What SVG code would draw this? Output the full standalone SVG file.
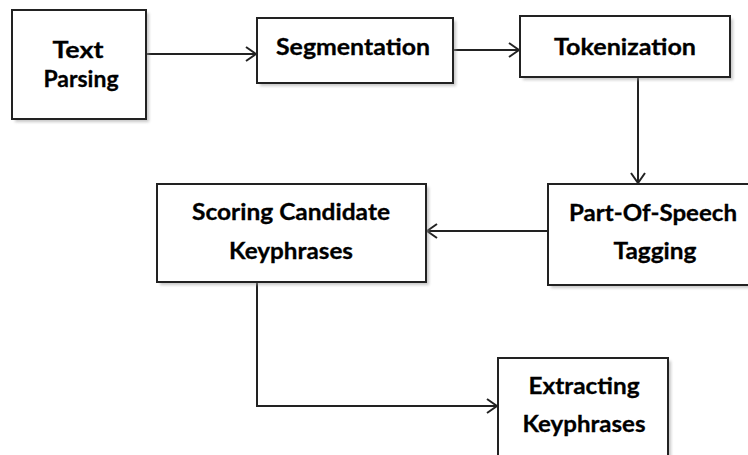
<svg xmlns="http://www.w3.org/2000/svg" width="748" height="455" viewBox="0 0 748 455">
<style>
.box{fill:#fff;stroke:#222;stroke-width:2}
.sh{fill:#999;opacity:0.55;filter:url(#blur)}
.t{font-family:Lato,"Open Sans",sans-serif;font-weight:bold;font-size:23px;fill:#000;stroke:#000;stroke-width:0.3;text-anchor:middle}
.c{fill:none;stroke:#222;stroke-width:2}
</style>
<defs>
<filter id="blur" x="-10%" y="-10%" width="120%" height="120%"><feGaussianBlur stdDeviation="1.5"/></filter>
<marker id="arr" viewBox="0 0 12 16" refX="11" refY="8" markerWidth="12" markerHeight="16" markerUnits="userSpaceOnUse" orient="auto">
<path d="M1,1 L11,8 L1,15" fill="none" stroke="#222" stroke-width="2"/>
</marker>
</defs>
<rect width="748" height="455" fill="#fff"/>
<g id="connectors">
<path class="c" d="M146,54 H256" marker-end="url(#arr)"/>
<path class="c" d="M453,50 H519" marker-end="url(#arr)"/>
<path class="c" d="M638,77 V183" marker-end="url(#arr)"/>
<path class="c" d="M548,231 H427" marker-end="url(#arr)"/>
<path class="c" d="M257,282 V406 H497" marker-end="url(#arr)"/>
</g>
<g id="text-parsing">
<rect class="sh" x="15" y="13" width="134" height="109"/>
<rect class="box" x="12" y="10" width="134" height="109"/>
<text class="t" x="78" y="58" textLength="51" lengthAdjust="spacingAndGlyphs">Text</text>
<text class="t" x="81" y="87" textLength="75" lengthAdjust="spacingAndGlyphs">Parsing</text>
</g>
<g id="segmentation">
<rect class="sh" x="260" y="21" width="196" height="65"/>
<rect class="box" x="257" y="18" width="196" height="65"/>
<text class="t" x="353" y="55" textLength="154" lengthAdjust="spacingAndGlyphs">Segmentation</text>
</g>
<g id="tokenization">
<rect class="sh" x="523" y="19" width="210" height="61"/>
<rect class="box" x="520" y="16" width="210" height="61"/>
<text class="t" x="625" y="55" textLength="142" lengthAdjust="spacingAndGlyphs">Tokenization</text>
</g>
<g id="pos-tagging">
<rect class="sh" x="551" y="187" width="200" height="101"/>
<rect class="box" x="548" y="184" width="202" height="101"/>
<text class="t" x="653" y="221" textLength="168" lengthAdjust="spacingAndGlyphs">Part-Of-Speech</text>
<text class="t" x="655" y="259" textLength="83" lengthAdjust="spacingAndGlyphs">Tagging</text>
</g>
<g id="scoring">
<rect class="sh" x="160" y="187" width="269" height="98"/>
<rect class="box" x="157" y="184" width="269" height="98"/>
<text class="t" x="291" y="220" textLength="198" lengthAdjust="spacingAndGlyphs">Scoring Candidate</text>
<text class="t" x="291" y="259" textLength="124" lengthAdjust="spacingAndGlyphs">Keyphrases</text>
</g>
<g id="extracting">
<rect class="sh" x="501" y="361" width="170" height="100"/>
<rect class="box" x="498" y="358" width="170" height="100"/>
<text class="t" x="584" y="394" textLength="111" lengthAdjust="spacingAndGlyphs">Extracting</text>
<text class="t" x="584" y="432" textLength="123" lengthAdjust="spacingAndGlyphs">Keyphrases</text>
</g>
</svg>
